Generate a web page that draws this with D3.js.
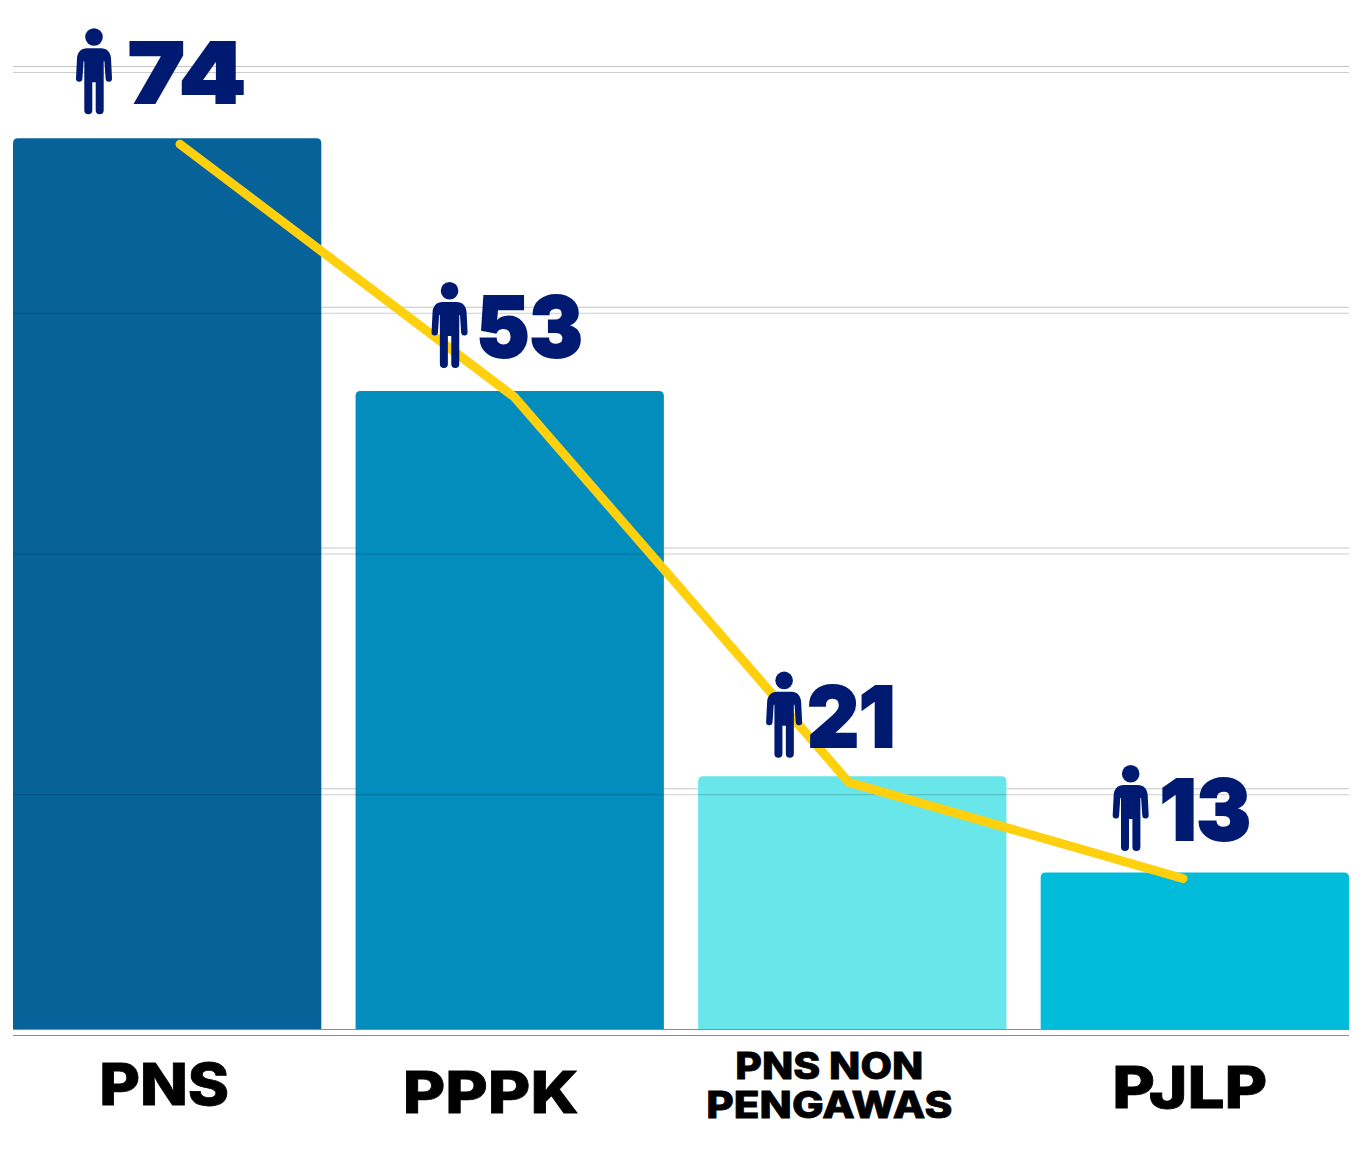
<!DOCTYPE html>
<html>
<head>
<meta charset="utf-8">
<script src="https://d3js.org/d3.v7.min.js"></script>
<style>
    html, body { margin: 0; padding: 0; background: #fff; }
    svg { display: block; }
    text { font-family: Inter, "Open Sans", sans-serif; }
</style>
</head>
<body>
<div id="chart"></div>
<script>
const w = 1362;
const h = 1171;

// data
const categories = ["PNS", "PPPK", "PNS NON PENGAWAS", "PJLP"];
const values = [74, 53, 21, 13];
const gridTicks = [0, 20, 40, 60, 80];
const barColors = ["#066299", "#028dbd", "#69e6ea", "#00bbda"];
const labelLines = [["PNS"], ["PPPK"], ["PNS NON", "PENGAWAS"], ["PJLP"]];

// hand placement, the original is not lined up with the bars
const iconShift = [[63, -110], [76, -109], [68, -104.5], [72, -107.5]];
const numberShift = [52, 45, 41, 47];
const numberWidth = [118, 106, 88, 91];
const labelShift = [-3, -19, -23, -5];
const labelBase = [1105, 1113, 1079, 1108];
const labelSize = [58, 58, 37, 58];
const labelWidth = [[130], [176], [188, 246], [155]];

const x = d3.scaleBand().domain(categories).range([13, 1349]).paddingInner(0.1).paddingOuter(0);
const y = d3.scaleLinear().domain([0, 80]).range([1029, 66]);
// the yellow line has its own narrower x run
const xLine = d3.scalePoint().domain(categories).range([180, 1183]);

const svg = d3.select("#chart").append("svg").attr("width", w).attr("height", h);

function grid(g) {
    g.call(d3.axisLeft(y).tickValues(gridTicks).tickSize(-(x.range()[1] - x.range()[0])).tickFormat(""));
    g.select(".domain").remove();
}

svg.append("g")
    .attr("transform", "translate(13,0)")
    .call(grid)
    .selectAll("line")
    .attr("stroke", d => d === 0 ? "#8c8c8c" : "#c4c4c4")
    .attr("stroke-width", 1);

const r = 5;
svg.selectAll(".bar").data(values).enter().append("path")
    .attr("class", "bar")
    .attr("fill", (d, i) => barColors[i])
    .attr("d", (d, i) => {
        const x0 = x(categories[i]), x1 = x0 + x.bandwidth(), top = y(d), base = y(0);
        return `M${x0},${base}V${top + r}Q${x0},${top} ${x0 + r},${top}H${x1 - r}Q${x1},${top} ${x1},${top + r}V${base}Z`;
    });

// second set of grid lines, sits on top of the bars
svg.append("g")
    .attr("transform", "translate(13,6)")
    .call(grid)
    .selectAll("line")
    .attr("stroke", d => d === 0 ? "#8c8c8c" : "#000")
    .attr("stroke-opacity", d => d === 0 ? 1 : 0.2)
    .attr("stroke-width", 1);

const line = d3.line()
    .x((d, i) => xLine(categories[i]))
    .y(d => y(d) + 6);

svg.append("path")
    .datum(values)
    .attr("d", line)
    .attr("fill", "none")
    .attr("stroke", "#ffd00d")
    .attr("stroke-width", 9)
    .attr("stroke-linecap", "round")
    .attr("stroke-linejoin", "miter");

const person = "M11,20H25C31,20 34.6,24 35,30L36,50A3.2,3.2 0 0 1 29.6,50.5L28.4,33H27.7V82A4,4 0 0 1 19.7,82V54H16.3V82A4,4 0 0 1 8.3,82V33H7.6L6.4,50.5A3.2,3.2 0 0 1 0,50L1,30C1.4,24 5,20 11,20Z";

const marks = svg.selectAll(".mark").data(values).enter().append("g")
    .attr("class", "mark")
    .attr("transform", (d, i) => `translate(${x(categories[i]) + iconShift[i][0]},${y(d) + iconShift[i][1]})`);

marks.append("circle").attr("cx", 18).attr("cy", 8.7).attr("r", 8.8).attr("fill", "#001a72");
marks.append("path").attr("d", person).attr("fill", "#001a72");
marks.append("text")
    .attr("x", (d, i) => numberShift[i])
    .attr("y", 75)
    .attr("font-size", 84)
    .attr("font-weight", 900)
    .attr("fill", "#001a72")
    .attr("stroke", "#001a72")
    .attr("stroke-width", 2)
    .attr("textLength", (d, i) => numberWidth[i])
    .attr("lengthAdjust", "spacingAndGlyphs")
    .text(d => d);

labelLines.forEach((lines, i) => {
    const label = svg.append("text")
        .attr("text-anchor", "middle")
        .attr("font-size", labelSize[i])
        .attr("font-weight", 800)
        .attr("fill", "#000")
        .attr("stroke", "#000")
        .attr("stroke-width", 0.8);
    lines.forEach((t, j) => {
        label.append("tspan")
            .attr("x", x(categories[i]) + x.bandwidth() / 2 + labelShift[i])
            .attr("y", labelBase[i] + j * 39)
            .attr("textLength", labelWidth[i][j])
            .attr("lengthAdjust", "spacingAndGlyphs")
            .text(t);
    });
});
</script>
</body>
</html>
